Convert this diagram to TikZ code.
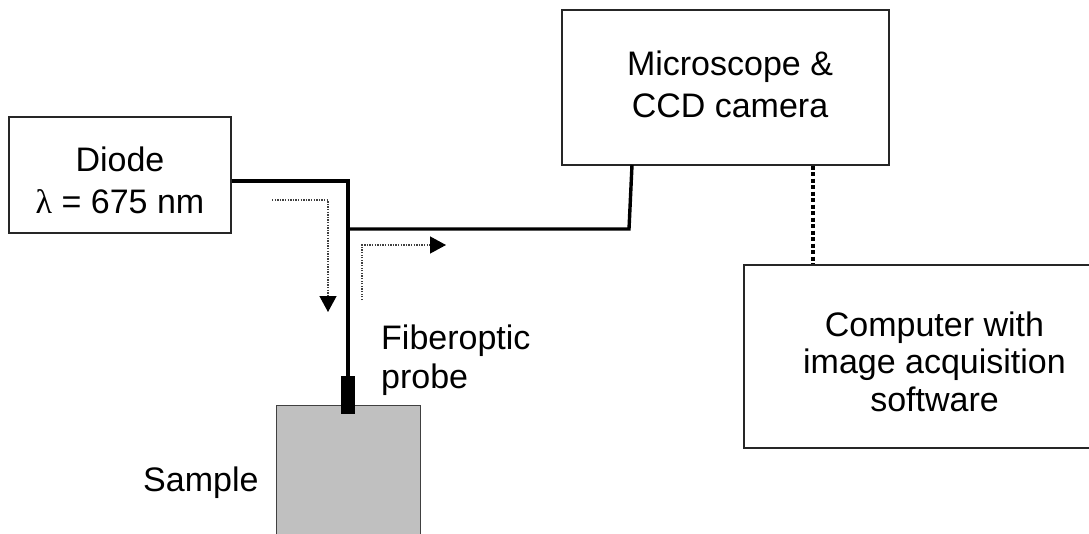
\documentclass[tikz,border=0pt]{standalone}
\usepackage{fontspec}
\setmainfont{Liberation Sans}
\newfontfamily\lamfont{Liberation Serif}
\usetikzlibrary{arrows.meta}
\begin{document}
\begin{tikzpicture}[x=1pt,y=-1pt,
  box/.style={draw=black!85, line width=1.3pt, inner sep=0pt},
  txt/.style={inner sep=0pt, align=center, font=\fontsize{34}{41.5}\selectfont},
  fiber/.style={line width=3.4pt, line join=miter},
  light/.style={line width=1.3pt, black!75, dash pattern=on 1.3pt off 1.3pt,
    -{Triangle[length=16pt,width=17pt,color=black]}},
  link/.style={line width=4pt, dash pattern=on 4pt off 2.5pt}]
\useasboundingbox (0,0) rectangle (1089,533);

% boxes
\node[box, minimum width=222pt, minimum height=116pt] (diode) at (120,175) {};
\node[box, minimum width=327pt, minimum height=155pt] (micro) at (725.5,87.5) {};
\node[box, minimum width=381pt, minimum height=183pt] (comp) at (934.5,356.5) {};
\node[draw=black!75, line width=1pt, fill={rgb,255:red,192;green,192;blue,192},
      minimum width=144pt, minimum height=195pt, inner sep=0pt] (sample) at (348,502.5) {};
\node[fill=black, minimum width=14pt, minimum height=38pt, inner sep=0pt] (probe) at (348,395) {};

% texts
\node[txt] (diodetext) at (120,180.5) {Diode\\{\lamfont λ} = 675 nm};
\node[txt] (microtext) at (730,84.5) {Microscope \&\\CCD camera};
\node[txt, font=\fontsize{34}{37.5}\selectfont] (comptext) at (934.5,361.5) {Computer with\\image acquisition\\software};
\node[txt, align=left, anchor=north west, font=\fontsize{34}{39}\selectfont] (fibertext) at (381,324.5) {Fiberoptic\\probe};
\node[txt, anchor=base west] (sampletext) at (143,491) {Sample};

% fibers
\coordinate (j1) at (348,181);
\draw[fiber] (diode.east |- j1) -- (j1) -- (probe.north);
\coordinate (j2) at (348,229);
\coordinate (j3) at (629,229);
\coordinate (m1) at (632,165);
\draw[fiber] (j2) -- (j3) -- (m1);

% data link
\coordinate (dl) at (813,0);
\draw[link] (micro.south -| dl) -- (comp.north -| dl);

% light paths
\coordinate (a1) at (272,200);
\coordinate (a2) at (328,200);
\coordinate (a3) at (328,312);
\draw[light] (a1) -- (a2) -- (a3);
\coordinate (a4) at (362,300);
\coordinate (a5) at (362,245);
\coordinate (a6) at (446,245);
\draw[light] (a4) -- (a5) -- (a6);
\end{tikzpicture}
\end{document}
